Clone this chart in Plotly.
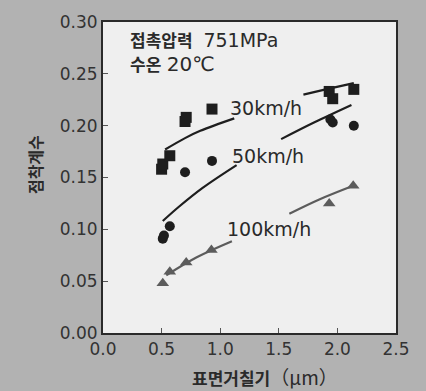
import plotly.graph_objects as go

# 30 km/h (squares)
sq_x = [0.50, 0.51, 0.57, 0.70, 0.71, 0.93, 1.93, 1.96, 2.14]
sq_y = [0.158, 0.163, 0.171, 0.204, 0.208, 0.216, 0.233, 0.226, 0.235]
# 50 km/h (circles)
ci_x = [0.51, 0.52, 0.57, 0.70, 0.93, 1.94, 1.96, 2.14]
ci_y = [0.091, 0.094, 0.103, 0.155, 0.166, 0.206, 0.203, 0.200]
# 100 km/h (triangles)
tr_x = [0.51, 0.57, 0.71, 0.925, 1.93, 2.135]
tr_y = [0.048, 0.059, 0.068, 0.080, 0.125, 0.142]

# fitted trend lines (broken where labels sit)
l30a_x = [0.53, 0.70, 0.83, 1.12]
l30a_y = [0.177, 0.188, 0.195, 0.207]
l30b_x = [1.71, 1.90, 2.14]
l30b_y = [0.230, 0.235, 0.241]
l50a_x = [0.51, 0.65, 0.85, 1.14]
l50a_y = [0.108, 0.122, 0.140, 0.162]
l50b_x = [1.52, 1.80, 2.12]
l50b_y = [0.187, 0.203, 0.220]
l100a_x = [0.54, 0.80, 1.10]
l100a_y = [0.0556, 0.073, 0.0885]
l100b_x = [1.59, 1.85, 2.135]
l100b_y = [0.115, 0.129, 0.142]

x_ticks = [0.0, 0.5, 1.0, 1.5, 2.0, 2.5]
x_labels = ["0.0", "0.5", "1.0", "1.5", "2.0", "2.5"]
y_ticks = [0.00, 0.05, 0.10, 0.15, 0.20, 0.25, 0.30]
y_labels = ["0.00", "0.05", "0.10", "0.15", "0.20", "0.25", "0.30"]

DARK = "#1e1e1e"
GREY = "#5c5c5c"
FONT = "DejaVu Sans, Noto Sans CJK KR"
KFONT = "Noto Sans CJK KR, DejaVu Sans"

fig = go.Figure()

for xs, ys, col in [(l30a_x, l30a_y, DARK), (l30b_x, l30b_y, DARK),
                    (l50a_x, l50a_y, DARK), (l50b_x, l50b_y, DARK),
                    (l100a_x, l100a_y, GREY), (l100b_x, l100b_y, GREY)]:
    fig.add_trace(go.Scatter(x=xs, y=ys, mode="lines", line=dict(color=col, width=2.2, shape="spline"),
                             showlegend=False, hoverinfo="skip"))

fig.add_trace(go.Scatter(x=sq_x, y=sq_y, mode="markers",
                         marker=dict(symbol="square", size=11, color=DARK), showlegend=False))
fig.add_trace(go.Scatter(x=ci_x, y=ci_y, mode="markers",
                         marker=dict(symbol="circle", size=10, color=DARK), showlegend=False))
fig.add_trace(go.Scatter(x=tr_x, y=tr_y, mode="markers",
                         marker=dict(symbol="triangle-up", size=11, color=GREY), showlegend=False))

annos = [
    dict(x=1.07, y=0.2166, text="30km/h"),
    dict(x=1.085, y=0.1706, text="50km/h"),
    dict(x=1.045, y=0.1003, text="100km/h"),
]
for a in annos:
    fig.add_annotation(x=a["x"], y=a["y"], text=a["text"], xref="x", yref="y",
                       xanchor="left", yanchor="middle", showarrow=False,
                       font=dict(family=FONT, size=19, color="#2a2a2a"))

fig.add_annotation(x=0.21, y=0.2825,
                   text="<b>접촉압력</b>  <span style='font-size:19px'>751MPa</span>",
                   xref="x", yref="y", xanchor="left", yanchor="middle", showarrow=False,
                   font=dict(family=FONT, size=17, color="#2a2a2a"))
fig.add_annotation(x=0.21, y=0.2593,
                   text="<b>수온</b> <span style='font-size:20px'>20℃</span>",
                   xref="x", yref="y", xanchor="left", yanchor="middle", showarrow=False,
                   font=dict(family=FONT, size=17, color="#2a2a2a"))

fig.add_annotation(x=0.5546, y=-0.140,
                   text="<b>표면거칠기</b><span style='font-size:19px'>（μm）</span>",
                   xref="paper", yref="paper", xanchor="center", yanchor="middle", showarrow=False,
                   font=dict(family=KFONT, size=17, color="#2a2a2a"))
fig.add_annotation(x=-0.232, y=0.54, text="<b>점착계수</b>", xref="paper", yref="paper",
                   xanchor="center", yanchor="middle", showarrow=False, textangle=-90,
                   font=dict(family=KFONT, size=16, color="#2a2a2a"))

axis_common = dict(showgrid=False, zeroline=False, showline=True, linecolor="#2a2a2a",
                   linewidth=2, mirror=True, ticks="inside", ticklen=5, tickwidth=1,
                   tickcolor="#555555", tickfont=dict(family=FONT, size=17, color="#333333"))

fig.update_xaxes(range=[0, 2.5], tickvals=x_ticks, ticktext=x_labels, **axis_common)
fig.update_yaxes(range=[0, 0.30], tickvals=y_ticks, ticktext=y_labels, **axis_common)

fig.update_layout(width=426, height=391, margin=dict(l=103, r=30, t=19, b=58),
                  paper_bgcolor="#b2b2b2", plot_bgcolor="#efefef")

fig.write_html("out.html", config={"displayModeBar": False},
               post_script="document.body.style.margin='0';document.body.style.background='#b2b2b2';")
